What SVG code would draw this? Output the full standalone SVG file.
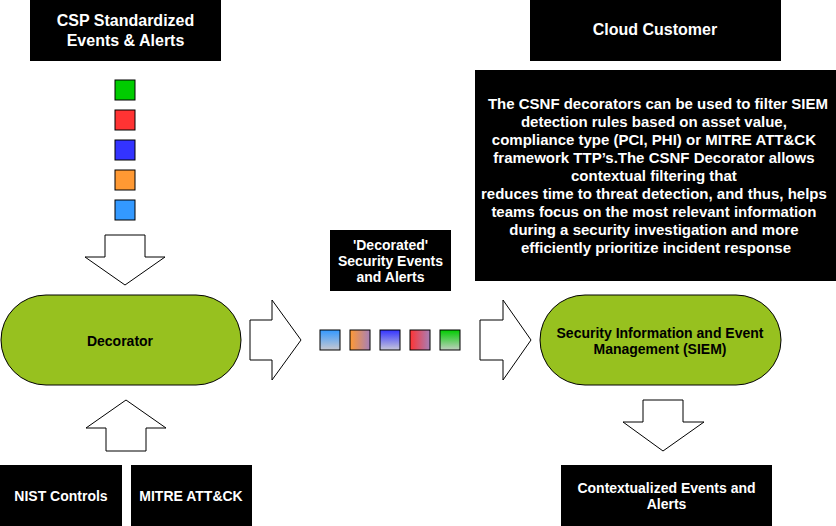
<svg xmlns="http://www.w3.org/2000/svg" width="836" height="526" viewBox="0 0 836 526">
<style>
.blk{fill:#000000;}
.wt{fill:#ffffff;font-family:"Liberation Sans",Arial,sans-serif;font-weight:bold;text-anchor:middle;}
.bt{fill:#000000;font-family:"Liberation Sans",Arial,sans-serif;font-weight:bold;text-anchor:middle;}
.sq{stroke:#000000;stroke-width:1;}
.arr{fill:#ffffff;stroke:#000000;stroke-width:1;}
.pill{fill:#97C11F;stroke:#000000;stroke-width:1;}
</style>
<defs>
<linearGradient id="gB" x1="0" y1="0" x2="0" y2="1"><stop offset="0" stop-color="#3399FF"/><stop offset="1" stop-color="#C8C8D0"/></linearGradient>
<linearGradient id="gO" x1="0" y1="0" x2="1" y2="0"><stop offset="0" stop-color="#FF9933"/><stop offset="1" stop-color="#A680B8"/></linearGradient>
<linearGradient id="gU" x1="0" y1="0" x2="0" y2="1"><stop offset="0" stop-color="#3333FF"/><stop offset="1" stop-color="#C8C8D8"/></linearGradient>
<linearGradient id="gR" x1="0" y1="0" x2="1" y2="0"><stop offset="0" stop-color="#FF3333"/><stop offset="1" stop-color="#A680B8"/></linearGradient>
<linearGradient id="gG" x1="0" y1="0" x2="0" y2="1"><stop offset="0" stop-color="#00CC00"/><stop offset="1" stop-color="#C0D0C0"/></linearGradient>
</defs>

<g id="csp-events">
<rect class="blk" x="30" y="0" width="191" height="61"/>
<text class="wt" font-size="16" x="125.5" y="26">CSP Standardized</text>
<text class="wt" font-size="16" x="125.5" y="45.5">Events &amp; Alerts</text>
</g>

<g id="event-squares">
<rect class="sq" x="115" y="80" width="20" height="20" fill="#00CC00"/>
<rect class="sq" x="115" y="110" width="20" height="20" fill="#FF3333"/>
<rect class="sq" x="115" y="140" width="20" height="20" fill="#3333FF"/>
<rect class="sq" x="115" y="170" width="20" height="20" fill="#FF9933"/>
<rect class="sq" x="115" y="200" width="20" height="20" fill="#3399FF"/>
</g>

<g id="connectors">
<polygon class="arr" points="105,235 145,235 145,257 165,257 125,285 85,257 105,257"/>
<polygon class="arr" points="106,451 146,451 146,428 166,428 126,400 86,428 106,428"/>
<polygon class="arr" points="250,320 272,320 272,300 301,340 272,380 272,360 250,360"/>
<polygon class="arr" points="480,320 503,320 503,300 531,340 503,380 503,360 480,360"/>
<polygon class="arr" points="643,400 683,400 683,422 704,422 663,451 623,422 643,422"/>
</g>

<g id="decorator">
<rect class="pill" x="1" y="295" width="240" height="90" rx="45" ry="45"/>
<text class="bt" font-size="14" x="120" y="345.5">Decorator</text>
</g>

<g id="nist">
<rect class="blk" x="0" y="465" width="122" height="61"/>
<text class="wt" font-size="14" x="61" y="500.5">NIST Controls</text>
</g>

<g id="mitre">
<rect class="blk" x="131" y="465" width="121" height="61"/>
<text class="wt" font-size="14" x="191" y="500.5">MITRE ATT&amp;CK</text>
</g>

<g id="decorated-label">
<rect class="blk" x="330" y="230" width="121" height="61"/>
<text class="wt" font-size="14" x="390.5" y="250">'Decorated'</text>
<text class="wt" font-size="14" x="390.5" y="266">Security Events</text>
<text class="wt" font-size="14" x="390.5" y="282">and Alerts</text>
</g>

<g id="decorated-squares">
<rect class="sq" x="320" y="330" width="20" height="20" fill="url(#gB)"/>
<rect class="sq" x="350" y="330" width="20" height="20" fill="url(#gO)"/>
<rect class="sq" x="380" y="330" width="20" height="20" fill="url(#gU)"/>
<rect class="sq" x="410" y="330" width="20" height="20" fill="url(#gR)"/>
<rect class="sq" x="440" y="330" width="20" height="20" fill="url(#gG)"/>
</g>

<g id="cloud-customer">
<rect class="blk" x="530" y="0" width="251" height="61"/>
<text class="wt" font-size="16" x="655" y="34.5">Cloud Customer</text>
</g>

<g id="description">
<rect class="blk" x="475" y="70" width="361" height="211"/>
<text class="wt" font-size="15">
<tspan x="660" y="108.5">The CSNF decorators can be used to filter SIEM</tspan>
<tspan x="656" y="126.6">detection rules based on asset value,</tspan>
<tspan x="656" y="144.7">compliance type (PCI, PHI) or MITRE ATT&amp;CK</tspan>
<tspan x="656" y="162.8">framework TTP’s.The CSNF Decorator allows</tspan>
<tspan x="656" y="180.9">contextual filtering that</tspan>
<tspan x="656" y="199">reduces time to threat detection, and thus, helps</tspan>
<tspan x="656" y="217.1">teams focus on the most relevant information</tspan>
<tspan x="656" y="235.2">during a security investigation and more</tspan>
<tspan x="656" y="253.3">efficiently prioritize incident response</tspan>
</text>
</g>

<g id="siem">
<rect class="pill" x="540" y="295" width="241" height="90" rx="45" ry="45"/>
<text class="bt" font-size="14" x="660" y="338">Security Information and Event</text>
<text class="bt" font-size="14" x="660" y="354">Management (SIEM)</text>
</g>

<g id="contextualized">
<rect class="blk" x="561" y="465" width="211" height="61"/>
<text class="wt" font-size="14" x="666.5" y="492.5">Contextualized Events and</text>
<text class="wt" font-size="14" x="666.5" y="509">Alerts</text>
</g>
</svg>
